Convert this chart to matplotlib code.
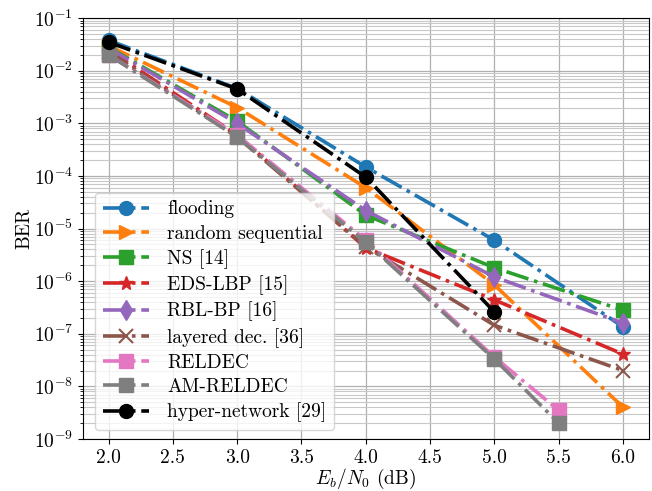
import matplotlib
matplotlib.use("Agg")
import matplotlib.pyplot as plt
import numpy as np

plt.rcParams["font.family"] = "serif"
plt.rcParams["font.serif"] = ["cmr10"]
plt.rcParams["mathtext.fontset"] = "cm"
plt.rcParams["axes.formatter.use_mathtext"] = True

# ---------- data ----------
snr = [2.0, 3.0, 4.0, 5.0, 6.0]
snr_short = [2.0, 3.0, 4.0, 5.0, 5.5]

ber_flooding = [3.8e-2, 4.6e-3, 1.48e-4, 6.0e-6, 1.35e-7]
ber_random = [3.0e-2, 2.0e-3, 6.0e-5, 8.5e-7, 4.0e-9]
ber_ns = [2.8e-2, 1.1e-3, 1.8e-5, 1.8e-6, 2.8e-7]
ber_eds = [2.5e-2, 6.0e-4, 4.3e-6, 4.4e-7, 4.1e-8]
ber_rbl = [2.7e-2, 1.0e-3, 2.2e-5, 1.2e-6, 1.6e-7]
ber_layered = [2.3e-2, 5.5e-4, 4.5e-6, 1.45e-7, 2.0e-8]
ber_reldec = [2.0e-2, 6.0e-4, 6.0e-6, 3.6e-8, 3.5e-9]
ber_amreldec = [2.0e-2, 5.5e-4, 5.5e-6, 3.3e-8, 2.0e-9]
ber_hyper = [3.5e-2, 4.5e-3, 9.5e-5, 2.6e-7]

series = [
    ("flooding", snr, ber_flooding, "tab:blue", "o"),
    ("random sequential", snr, ber_random, "tab:orange", ">"),
    ("NS [14]", snr, ber_ns, "tab:green", "s"),
    ("EDS-LBP [15]", snr, ber_eds, "tab:red", "*"),
    ("RBL-BP [16]", snr, ber_rbl, "tab:purple", "d"),
    ("layered dec. [36]", snr, ber_layered, "tab:brown", "x"),
    ("RELDEC", snr_short, ber_reldec, "tab:pink", "s"),
    ("AM-RELDEC", snr_short, ber_amreldec, "tab:gray", "s"),
    ("hyper-network [29]", snr[:4], ber_hyper, "black", "o"),
]

fig = plt.figure(figsize=(6.52, 4.91), dpi=100)
ax = fig.add_axes([0.127, 0.106, 0.868, 0.857])

for label, x, y, c, m in series:
    ax.semilogy(x, y, linestyle="-.", color=c, marker=m,
                linewidth=2.6, markersize=10,
                markeredgewidth=1.5 if m == "x" else 1.0,
                label=label)

ax.set_xlim(1.8, 6.2)
ax.set_ylim(1e-9, 1e-1)
ax.set_xticks(np.arange(2.0, 6.01, 0.5))
ax.set_xticklabels([f"{v:.1f}" for v in np.arange(2.0, 6.01, 0.5)])
ax.grid(True, which="major", color="#b0b0b0", linewidth=0.9)
ax.grid(True, which="minor", axis="y", color="#c8c8c8", linewidth=0.8)
ax.tick_params(labelsize=14)
ax.set_xlabel(r"$E_b/N_0$ (dB)", fontsize=14, labelpad=0)
ax.set_ylabel("BER", fontsize=14, labelpad=0)
ax.legend(loc="lower left", bbox_to_anchor=(0.006, 0.0), fontsize=14,
          handlelength=2.4, borderaxespad=0.45, labelspacing=0.33,
          handletextpad=0.9)

fig.savefig("out.png", dpi=100)
